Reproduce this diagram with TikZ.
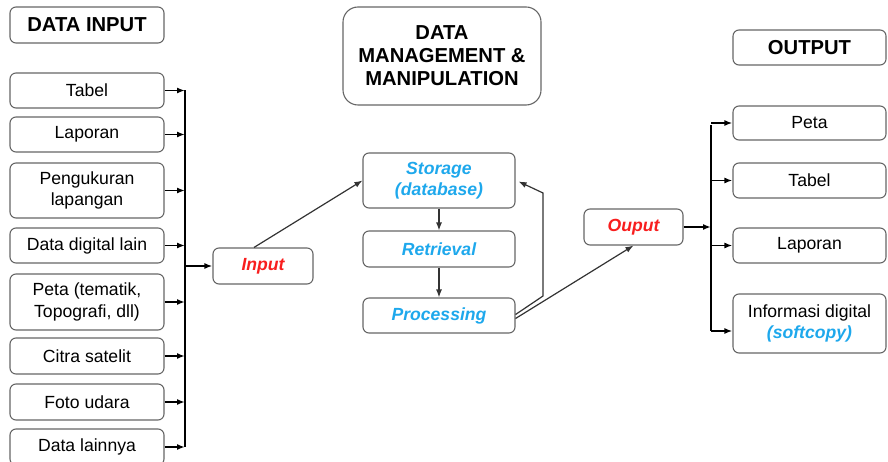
\documentclass[tikz,border=0pt]{standalone}
\usepackage{fontspec}
\setmainfont{Liberation Sans}
\usetikzlibrary{arrows.meta}
\definecolor{boxgray}{HTML}{666666}
\definecolor{linegray}{HTML}{333333}
\definecolor{inred}{HTML}{F81E1E}
\definecolor{inblue}{HTML}{1EA8EC}
\tikzset{
	box/.style={draw=boxgray,line width=1.1pt,rounded corners=6pt,align=center,
		font=\fontsize{17.6}{21.5}\selectfont,inner sep=2pt},
	head/.style={box,font=\fontsize{20.2}{23}\selectfont\bfseries},
	redtxt/.style={text=inred,font=\fontsize{17.6}{21.5}\selectfont\bfseries\itshape},
	bluetxt/.style={text=inblue,font=\fontsize{17.6}{21.5}\selectfont\bfseries\itshape},
	bus/.style={line width=1.8pt},
	conn/.style={line width=1.2pt,draw=linegray}
}
\begin{document}
\begin{tikzpicture}[x=1pt,y=-1pt,>={Latex[length=8pt,width=6pt]}]
	\useasboundingbox (0,0) rectangle (888,462);
	% data input
	\node (inhead) at (87,25) [head,minimum width=154pt,minimum height=36pt] {DATA INPUT};
	\node (tabel) at (87,90.5) [box,minimum width=154pt,minimum height=35pt] {Tabel};
	\node (laporan) at (87,134.5) [box,minimum width=154pt,minimum height=35pt] {Laporan};
	\node (ukur) at (87,190.5) [box,minimum width=154pt,minimum height=55pt] {Pengukuran\\lapangan};
	\node (digital) at (87,245.5) [box,minimum width=154pt,minimum height=35pt] {Data digital lain};
	\node (peta) at (87,302) [box,minimum width=154pt,minimum height=56pt] {Peta (tematik,\\Topografi, dll)};
	\node (citra) at (87,356) [box,minimum width=154pt,minimum height=36pt] {Citra satelit};
	\node (foto) at (87,402) [box,minimum width=154pt,minimum height=36pt] {Foto udara};
	\node (lain) at (87,447) [box,minimum width=154pt,minimum height=36pt] {Data lainnya};
	\coordinate (inbus) at (185,90.5);
	\coordinate (inbusend) at (185,447);
	\draw [bus] (inbus) -- (inbusend);
	\foreach \n in {tabel,laporan,ukur,digital,peta,citra,foto,lain}
		\draw [bus,->] (\n.east) -- (\n.east -| inbus);
	\node (input) at (263,266) [box,redtxt,minimum width=100pt,minimum height=36pt] {Input};
	\draw [bus,->] (input.west -| inbus) -- (input.west);
	% data management
	\node (manhead) at (442,56) [head,rounded corners=15pt,minimum width=198pt,minimum height=98pt] {DATA\\MANAGEMENT \&\\MANIPULATION};
	\node (storage) at (439,180.5) [box,bluetxt,minimum width=152pt,minimum height=55pt] {Storage\\(database)};
	\node (retrieval) at (439,249) [box,bluetxt,minimum width=152pt,minimum height=36pt] {Retrieval};
	\node (proc) at (439,315.5) [box,bluetxt,minimum width=152pt,minimum height=35pt] {Processing};
	\draw [conn,->] ([xshift=-9pt]input.north) -- (storage.west);
	\draw [conn,->] (storage.south) -- (retrieval.north);
	\draw [conn,->] (retrieval.south) -- (proc.north);
	\coordinate (fb1) at (543,296);
	\coordinate (fb2) at (543,193);
	\draw [conn,->] ([yshift=1pt]proc.east) -- (fb1) -- (fb2) -- ([xshift=3pt,yshift=-1pt]storage.east);
	% output
	\node (ouput) at (633.5,227) [box,redtxt,minimum width=99pt,minimum height=36pt] {Ouput};
	\draw [conn,->] ([yshift=-3pt]proc.east) -- (ouput.south);
	\node (outhead) at (809.5,47.5) [head,minimum width=153pt,minimum height=35pt] {OUTPUT};
	\node (opeta) at (809.5,123) [box,minimum width=153pt,minimum height=34pt] {Peta};
	\node (otabel) at (809.5,180.5) [box,minimum width=153pt,minimum height=35pt] {Tabel};
	\node (olaporan) at (809.5,245.5) [box,minimum width=153pt,minimum height=35pt] {Laporan};
	\node (oinfo) at (809.5,323.5) [box,minimum width=153pt,minimum height=59pt] {Informasi digital\\\textcolor{inblue}{\bfseries\itshape (softcopy)}};
	\coordinate (outbus) at (711,125);
	\coordinate (outbusend) at (711,331);
	\draw [bus] (outbus) -- (outbusend);
	\draw [bus,->] (ouput.east) -- (ouput.east -| outbus);
	\foreach \n in {opeta,otabel,olaporan}
		\draw [bus,->] (\n.west -| outbus) -- (\n.west);
	\draw [bus,->] (outbusend) -- (outbusend -| oinfo.west);
\end{tikzpicture}
\end{document}
